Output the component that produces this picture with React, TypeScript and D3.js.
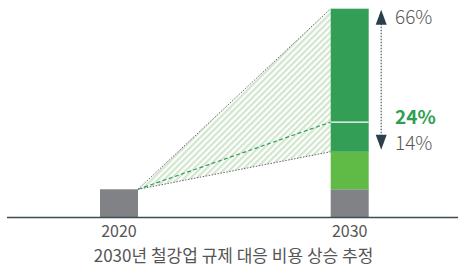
import React from "react";
import * as d3 from "d3";

const categories = ["2020", "2030"];
// stacked segments in relative units (2020 = 1)
const base2020 = 1.0;
const seg2030 = [
  { key: "base", value: 1.0, color: "#818286" },
  { key: "light", value: 1.34, color: "#5fba46" },
  { key: "darkLow", value: 1.06, color: "#339e56" },
  { key: "darkHigh", value: 4.05, color: "#339e56" },
];
const rangeLabels = ["66%", "14%"];
const midLabel = "24%";
const title = "2030년 철강업 규제 대응 비용 상승 추정";

const W = 458;
const H = 267;

export default function App() {
  const x = d3.scalePoint<string>().domain(categories).range([119, 349.7]);
  const bw = 38;
  const y = d3.scaleLinear().domain([0, 7.76]).range([217.3, 0]);

  let acc = 0;
  const stacks = seg2030.map((s) => {
    const y0 = acc;
    acc += s.value;
    return { ...s, y0, y1: acc };
  });
  const total = acc;
  const lowTop = stacks[1].y1; // top of light green
  const midTop = stacks[2].y1; // white divider

  const x20r = (x("2020") as number) + bw / 2;
  const x30l = (x("2030") as number) - bw / 2;
  const x30c = x("2030") as number;
  const yStart = y(base2020);

  const hatch = `M${x20r},${yStart} L${x30l},${y(total)} L${x30l},${y(lowTop)} Z`;
  const arrowX = x30c + bw / 2 + 12.5;
  const font = "'Noto Sans CJK KR', 'Noto Sans', sans-serif";

  return (
    <svg width={W} height={H} style={{ position: "absolute", left: 0, top: 0 }}>
      <defs>
        <pattern id="stripes" width={4.4} height={4.4} patternUnits="userSpaceOnUse" patternTransform="rotate(45)">
          <rect x={0} y={0} width={2.3} height={4.4} fill="#d3e6d0" />
        </pattern>
      </defs>
      <path d={hatch} fill="url(#stripes)" />
      <line x1={x20r} y1={yStart} x2={x30l} y2={y(total)} stroke="#666" strokeWidth={1} strokeDasharray="1.5,1.5" />
      <line x1={x20r} y1={yStart} x2={x30l} y2={y(lowTop)} stroke="#666" strokeWidth={1} strokeDasharray="1.5,1.5" />
      <line x1={x20r} y1={yStart} x2={x30l} y2={y(midTop)} stroke="#339e56" strokeWidth={1.2} strokeDasharray="4,2.5" />

      <rect x={(x("2020") as number) - bw / 2} y={y(base2020)} width={bw} height={y(0) - y(base2020)} fill="#818286" />
      {stacks.map((s) => (
        <rect key={s.key} x={x30l} y={y(s.y1)} width={bw} height={y(s.y0) - y(s.y1)} fill={s.color} />
      ))}
      <line x1={x30l} x2={x30l + bw} y1={y(midTop)} y2={y(midTop)} stroke="#fff" strokeWidth={1.3} />

      <line x1={7} x2={458} y1={217.5} y2={217.5} stroke="#3d4b52" strokeWidth={1.5} />

      {/* arrow */}
      <line x1={arrowX} x2={arrowX} y1={y(total) + 15} y2={y(lowTop) - 16} stroke="#4a5963" strokeWidth={1.2} strokeDasharray="1.5,1.5" />
      <path d={`M${arrowX},${y(total) + 1} L${arrowX - 5.5},${y(total) + 16} L${arrowX + 5.5},${y(total) + 16} Z`} fill="#2b3f4c" />
      <path d={`M${arrowX},${y(lowTop) - 2} L${arrowX - 5.5},${y(lowTop) - 17} L${arrowX + 5.5},${y(lowTop) - 17} Z`} fill="#2b3f4c" />

      <g fontFamily={font} fontSize={19}>
        <text x={395} y={24} fill="#595959" fontWeight={300}>{rangeLabels[0]}</text>
        <text x={395} y={123.5} fill="#2f9e52" fontWeight={700}>{midLabel}</text>
        <text x={395} y={150} fill="#595959" fontWeight={300}>{rangeLabels[1]}</text>
      </g>

      <g fontFamily={font} fontSize={16} fill="#555" textAnchor="middle">
        {categories.map((c) => (
          <text key={c} x={x(c) as number} y={237}>{c}</text>
        ))}
        <text x={233.5} y={262} fontSize={17}>{title}</text>
      </g>
    </svg>
  );
}
